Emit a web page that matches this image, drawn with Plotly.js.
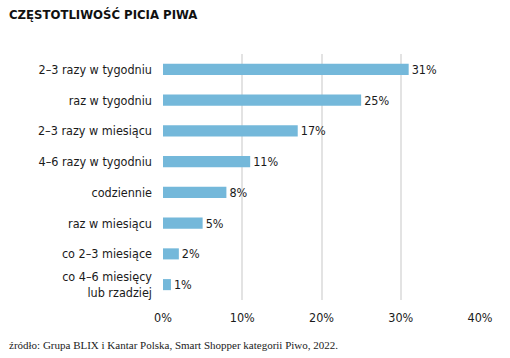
<!DOCTYPE html>
<html>
<head>
<meta charset="utf-8">
<script src="https://cdn.plot.ly/plotly-3.0.1.min.js"></script>
<style>html,body{margin:0;padding:0;background:#fff;}#chart{width:510px;height:358px;}</style>
</head>
<body>
<div id="chart"></div>
<script>
const categories = ["2–3 razy w tygodniu", "raz w tygodniu", "2–3 razy w miesiącu", "4–6 razy w tygodniu", "codziennie", "raz w miesiącu", "co 2–3 miesiące", "co 4–6 miesięcy<br>lub rzadziej"];
const values = [31, 25, 17, 11, 8, 5, 2, 1];
const valueLabels = ["31%", "25%", "17%", "11%", "8%", "5%", "2%", "1%"];
const tickVals = [0, 10, 20, 30, 40];
const tickText = ["0%", "10%", "20%", "30%", "40%"];
const chartTitle = "CZĘSTOTLIWOŚĆ PICIA PIWA";
const sourceNote = "źródło: Grupa BLIX i Kantar Polska, Smart Shopper kategorii Piwo, 2022.";

const condensed = "'DejaVu Sans Condensed', 'Liberation Sans Narrow', 'DejaVu Sans', sans-serif";

const trace = {
  type: "bar",
  orientation: "h",
  y: categories,
  x: values,
  text: valueLabels,
  textposition: "outside",
  constraintext: "none",
  cliponaxis: false,
  textfont: {family: condensed, size: 12.5, color: "#1a1a1a"},
  marker: {color: "#74b8da"},
  width: 0.36,
  hoverinfo: "none"
};

const layout = {
  width: 510, height: 358,
  margin: {l: 163, r: 30, t: 54, b: 58},
  paper_bgcolor: "#fff", plot_bgcolor: "#fff",
  showlegend: false,
  xaxis: {
    range: [0, 40], tickvals: tickVals, ticktext: tickText,
    showgrid: true, gridcolor: "#e3e3e3", gridwidth: 2,
    zeroline: false, showline: false, ticks: "",
    ticklabelstandoff: 8,
    tickfont: {family: condensed, size: 12.5, color: "#1a1a1a"},
    fixedrange: true
  },
  yaxis: {
    autorange: "reversed", type: "category",
    showgrid: false, zeroline: false, showline: false, ticks: "",
    ticklabelstandoff: 10,
    tickfont: {family: condensed, size: 12.5, color: "#1a1a1a"},
    fixedrange: true
  },
  annotations: [
    {text: "<b>" + chartTitle + "</b>", xref: "paper", yref: "paper", xanchor: "left", yanchor: "middle",
     showarrow: false, font: {family: condensed, size: 13, color: "#111"}},
    {text: sourceNote, xref: "paper", yref: "paper", xanchor: "left", yanchor: "middle", showarrow: false,
     font: {family: "'Liberation Serif', serif", size: 11, color: "#222"}}
  ]
};
// position annotations in pixel terms relative to plot area
const plotW = 510 - 163 - 30, plotH = 358 - 54 - 58;
const plotBottom = 358 - 58;
layout.annotations[0].x = (7 - 163) / plotW;
layout.annotations[0].y = (plotBottom - 14) / plotH;
layout.annotations[1].x = (7 - 163) / plotW;
layout.annotations[1].y = (plotBottom - 345) / plotH;

Plotly.newPlot("chart", [trace], layout, {displayModeBar: false, staticPlot: true});
</script>
</body>
</html>
